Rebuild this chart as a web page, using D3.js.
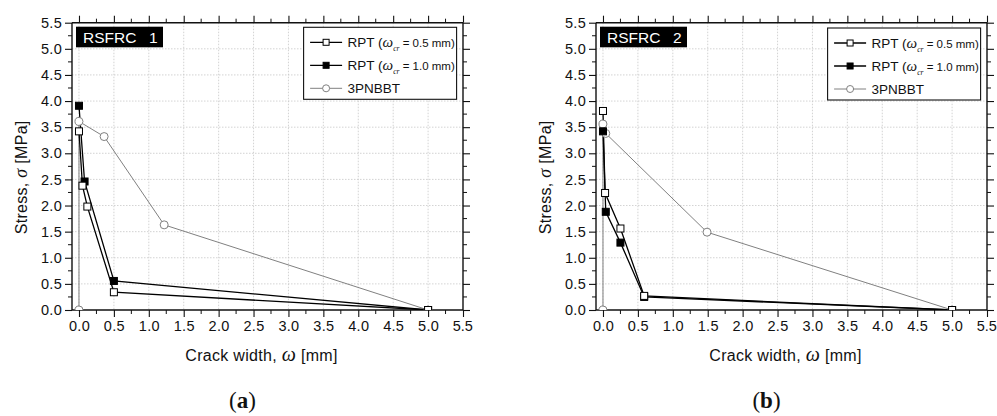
<!DOCTYPE html>
<html><head><meta charset="utf-8">
<script src="https://cdn.jsdelivr.net/npm/d3@7"></script>
<style>
body{margin:0;background:#fff;}
svg{display:block;}
</style></head>
<body>
<svg id="chart" width="997" height="416" font-family="Liberation Sans, Arial, sans-serif"></svg>
<script>
// ---- data ----
const xTickValues = [0,0.5,1.0,1.5,2.0,2.5,3.0,3.5,4.0,4.5,5.0,5.5];
const yTickValues = [0,0.5,1.0,1.5,2.0,2.5,3.0,3.5,4.0,4.5,5.0,5.5];
const panelTitles = ["RSFRC_1","RSFRC_2"];
const panelCaptions = ["a","b"];
const legendNames = ["0.5 mm)","1.0 mm)","3PNBBT"];

const a_rpt05_x = [0, 0.05, 0.12, 0.5, 5.0];
const a_rpt05_y = [3.42, 2.38, 1.98, 0.34, 0];
const a_rpt10_x = [0, 0.08, 0.5, 5.0];
const a_rpt10_y = [3.91, 2.46, 0.556, 0];
const a_3p_x = [0, 0, 0.36, 1.22, 5.0];
const a_3p_y = [0, 3.61, 3.32, 1.63, 0];

const b_rpt05_x = [0, 0.03, 0.25, 0.59, 5.0];
const b_rpt05_y = [3.81, 2.24, 1.56, 0.27, 0];
const b_rpt10_x = [0, 0.04, 0.25, 0.59, 5.0];
const b_rpt10_y = [3.42, 1.88, 1.29, 0.25, 0];
const b_3p_x = [0, 0, 0.04, 1.49, 5.0];
const b_3p_y = [0, 3.56, 3.38, 1.49, 0];

const zip = (xs, ys) => xs.map((x,i)=>({x, y: ys[i]}));

const panels = [
  {left:72, title:panelTitles[0], cap:panelCaptions[0],
   series:[zip(a_rpt05_x,a_rpt05_y), zip(a_rpt10_x,a_rpt10_y), zip(a_3p_x,a_3p_y)]},
  {left:596, title:panelTitles[1], cap:panelCaptions[1],
   series:[zip(b_rpt05_x,b_rpt05_y), zip(b_rpt10_x,b_rpt10_y), zip(b_3p_x,b_3p_y)]}
];

const svg = d3.select("#chart");
const W = 391, topY = 22.7, botY = 310;
const SERIF = "Liberation Serif, 'DejaVu Serif', serif";

panels.forEach((p, pi) => {
  const g = svg.append("g").attr("transform", `translate(${p.left},0)`);
  const x = d3.scaleLinear().domain([-0.1, 5.5]).range([0, W]);
  const y = d3.scaleLinear().domain([0, 5.5]).range([botY, topY]);

  // grid
  const grid = g.append("g").attr("stroke","#c8c8c8").attr("stroke-width",0.8).attr("stroke-dasharray","1.5,1.5");
  xTickValues.filter(v=>v<5.5).forEach(v=>{
    grid.append("line").attr("x1",x(v)).attr("x2",x(v)).attr("y1",topY).attr("y2",botY);
  });
  yTickValues.filter(v=>v>0 && v<5.5).forEach(v=>{
    grid.append("line").attr("x1",0).attr("x2",W).attr("y1",y(v)).attr("y2",y(v));
  });

  const minorX = d3.range(0, 5.5, 0.25).filter(v => Math.abs(v*2 - Math.round(v*2))>0.01);
  const minorY = minorX;

  // axes
  const axB = d3.axisBottom(x).tickValues(xTickValues).tickFormat(d3.format(".1f")).tickSize(7).tickPadding(4);
  const axL = d3.axisLeft(y).tickValues(yTickValues).tickFormat(d3.format(".1f")).tickSize(7).tickPadding(3);
  const axT = d3.axisTop(x).tickValues(xTickValues).tickFormat("").tickSize(7);
  const axR = d3.axisRight(y).tickValues(yTickValues).tickFormat("").tickSize(7);
  const styleAx = sel => { sel.attr("font-size",14.5).attr("font-family","Liberation Sans, Arial, sans-serif");
    sel.selectAll("path").attr("stroke","#111").attr("stroke-width",1.4);
    sel.selectAll("line").attr("stroke","#111").attr("stroke-width",1.1);
    sel.selectAll("text").attr("fill","#111").attr("letter-spacing",0.3); };
  g.append("g").attr("transform",`translate(0,${botY})`).call(axB).call(styleAx).call(s=>s.select(".domain").attr("d",`M0,0H${W}`))
    .call(s=>s.selectAll(".tick text").filter(d=>d===5.5).attr("letter-spacing",0).attr("dx",-0.8));
  g.append("g").call(axL).call(styleAx).call(s=>s.select(".domain").attr("d",`M0,${botY}V${topY}`));
  g.append("g").attr("transform",`translate(0,${topY})`).call(axT).call(styleAx).call(s=>s.select(".domain").attr("d",`M0,0H${W}`));
  g.append("g").attr("transform",`translate(${W},0)`).call(axR).call(styleAx).call(s=>s.select(".domain").attr("d",`M0,${botY}V${topY}`));
  // minor ticks
  const mt = g.append("g").attr("stroke","#111").attr("stroke-width",1);
  minorX.forEach(v=>{
    mt.append("line").attr("x1",x(v)).attr("x2",x(v)).attr("y1",botY).attr("y2",botY+4);
    mt.append("line").attr("x1",x(v)).attr("x2",x(v)).attr("y1",topY).attr("y2",topY-4);
  });
  minorY.forEach(v=>{
    mt.append("line").attr("y1",y(v)).attr("y2",y(v)).attr("x1",0).attr("x2",-4);
    mt.append("line").attr("y1",y(v)).attr("y2",y(v)).attr("x1",W).attr("x2",W+4);
  });

  // clip
  const cid = "clip"+pi;
  g.append("clipPath").attr("id",cid).append("rect").attr("x",0).attr("y",topY).attr("width",W).attr("height",botY-topY);
  const plot = g.append("g").attr("clip-path",`url(#${cid})`);
  const line = d3.line().x(d=>x(d.x)).y(d=>y(d.y));

  const styles = [
    {stroke:"#000", sw:1.3, marker:"sq", fill:"#fff"},
    {stroke:"#000", sw:1.3, marker:"sq", fill:"#000"},
    {stroke:"#808080", sw:1, marker:"ci", fill:"#fff"}
  ];
  const order = [2,1,0];
  order.forEach(si=>{
    plot.append("path").datum(p.series[si]).attr("d",line).attr("fill","none")
      .attr("stroke",styles[si].stroke).attr("stroke-width",styles[si].sw);
  });
  order.forEach(si=>{
    const st = styles[si];
    const m = plot.append("g");
    p.series[si].forEach(d=>{
      if(st.marker==="sq"){
        m.append("rect").attr("x",x(d.x)-3.5).attr("y",y(d.y)-3.5).attr("width",7).attr("height",7)
          .attr("fill",st.fill).attr("stroke","#000").attr("stroke-width",1);
      } else {
        m.append("circle").attr("cx",x(d.x)).attr("cy",y(d.y)).attr("r",4)
          .attr("fill","#fff").attr("stroke","#808080").attr("stroke-width",1);
      }
    });
  });

  // title box
  const tb = g.append("g");
  tb.append("rect").attr("x",4).attr("y",26.7).attr("width",87).attr("height",20.6).attr("fill","#000");
  const parts = p.title.split("_");
  const tt = tb.append("text").attr("x",11).attr("y",43).attr("font-size",15.5).attr("fill","#fff");
  tt.append("tspan").text(parts[0]);
  tt.append("tspan").attr("fill","#000").text("_");
  tt.append("tspan").attr("dx",4).text(parts[1]);

  // legend
  const lx = W - 159.4, ly = 27.3 + 0.7*pi;
  const lg = g.append("g").attr("transform",`translate(${lx},${ly})`);
  lg.append("rect").attr("x",0).attr("y",0).attr("width",153).attr("height",72).attr("fill","#fff").attr("stroke","#111").attr("stroke-width",1.1);
  [0,1,2].forEach(i=>{
    const yy = 15 + i*23;
    const st = styles[i];
    lg.append("line").attr("x1",6.5).attr("x2",38.5).attr("y1",yy).attr("y2",yy).attr("stroke",st.stroke).attr("stroke-width",st.sw);
    if(st.marker==="sq"){
      lg.append("rect").attr("x",22.5-3).attr("y",yy-3).attr("width",6).attr("height",6).attr("fill",st.fill).attr("stroke","#000");
    } else {
      lg.append("circle").attr("cx",22.5).attr("cy",yy).attr("r",3.5).attr("fill","#fff").attr("stroke","#808080");
    }
    const t = lg.append("text").attr("x",44).attr("y",yy+5).attr("font-size",13.5).attr("fill","#111");
    if(i<2){
      t.append("tspan").text("RPT (");
      t.append("tspan").attr("font-family",SERIF).attr("font-style","italic").attr("font-size",15).text("ω");
      t.append("tspan").attr("font-family",SERIF).attr("font-style","italic").attr("font-size",7.5).attr("dy",4).text("cr");
      t.append("tspan").attr("dy",-4).attr("font-size",11.5).text(" = " + legendNames[i]);
    } else {
      t.text(legendNames[i]);
    }
  });

  // axis titles
  const xt = g.append("text").attr("x",W/2 - 6).attr("y",361).attr("text-anchor","middle").attr("font-size",16).attr("fill","#111").attr("letter-spacing",0.3);
  xt.append("tspan").text("Crack width, ");
  xt.append("tspan").attr("font-family",SERIF).attr("font-style","italic").attr("font-size",20).text("ω");
  xt.append("tspan").text("  [mm]");

  const yt = g.append("text").attr("transform",`translate(-45,${(topY+botY)/2 + 11}) rotate(-90)`).attr("text-anchor","middle").attr("font-size",16).attr("fill","#111").attr("letter-spacing",0.3);
  yt.append("tspan").text("Stress, ");
  yt.append("tspan").attr("font-family",SERIF).attr("font-style","italic").attr("font-size",18).text("σ");
  yt.append("tspan").text("  [MPa]");

  // caption
  const cap = g.append("text").attr("x",W/2 - 25).attr("y",408).attr("text-anchor","middle")
    .attr("font-family",SERIF).attr("font-size",23).attr("fill","#111");
  cap.append("tspan").text("(");
  cap.append("tspan").attr("font-weight","bold").text(p.cap);
  cap.append("tspan").text(")");
});
</script>
</body></html>
